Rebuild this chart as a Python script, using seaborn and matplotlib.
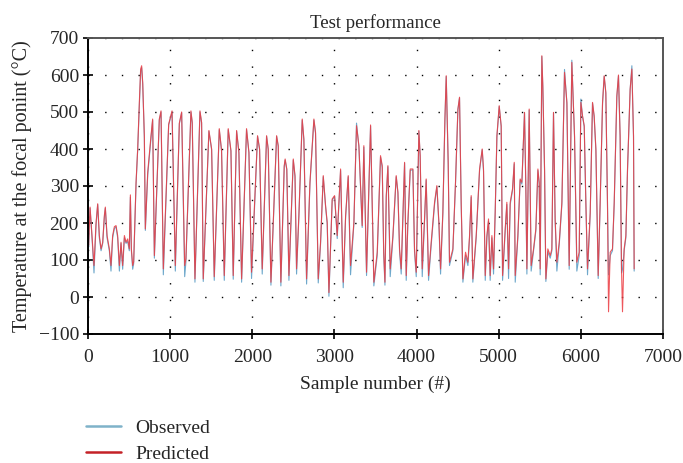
import matplotlib
matplotlib.use("Agg")
import matplotlib.pyplot as plt
from matplotlib.lines import Line2D
import numpy as np
import pandas as pd
import seaborn as sns

# Turning points of the test series (sample index, temperature in °C)
sample_number = [
    0, 8, 25, 49, 73, 98, 118, 138, 159, 179, 199, 211, 232, 260, 280, 300,
    321, 341, 361, 382, 402, 422, 443, 463, 483, 503, 516, 528, 544, 556, 585,
    605, 625, 641, 653, 666, 686, 698, 727, 767, 787, 808, 868, 889, 917, 982,
    1023, 1063, 1112, 1140, 1177,
    1192, 1253, 1269, 1302, 1363, 1383, 1403, 1472, 1505, 1537, 1598, 1626,
    1659, 1707, 1740, 1768, 1809, 1837, 1870, 1930, 1959, 1991, 2064, 2089,
    2121, 2174, 2194, 2227, 2296, 2316, 2348, 2389,
    2400, 2420, 2446, 2499, 2520, 2539, 2567, 2608, 2628, 2661, 2702, 2750,
    2770, 2803, 2831, 2864, 2892, 2912, 2933, 2973, 3002, 3034, 3075, 3107,
    3136, 3168, 3196, 3237, 3269, 3298, 3338, 3358, 3391, 3440, 3480, 3521,
    3561, 3582,
    3600, 3615, 3631, 3651, 3679, 3712, 3752, 3773, 3793, 3813, 3854, 3874,
    3894, 3923, 3955, 3975, 3996, 4028, 4044, 4069, 4097, 4117, 4146, 4178,
    4219, 4247, 4272, 4292, 4320, 4345, 4361, 4385, 4401, 4442, 4474, 4503,
    4523, 4543, 4564, 4596, 4625, 4645, 4665, 4685, 4726, 4767, 4799,
    4815, 4836, 4856, 4876, 4896, 4917, 4937, 4957, 4978, 5006, 5030, 5047,
    5079, 5099, 5120, 5140, 5168, 5189, 5201, 5233, 5261, 5282, 5314, 5330,
    5343, 5371, 5395, 5424, 5452, 5477, 5493, 5505, 5525, 5537, 5558, 5574,
    5598, 5627, 5647, 5667, 5687, 5708, 5737, 5769, 5801, 5830, 5858, 5890,
    5923, 5951, 5980, 6000,
    6020, 6041, 6061, 6081, 6114, 6142, 6162, 6183, 6211, 6235, 6264, 6284,
    6304, 6324, 6337, 6357, 6385, 6406, 6438, 6458, 6478, 6495, 6507, 6527,
    6548, 6568, 6600, 6621, 6641, 6649,
]

observed = [
    150, 135, 240, 160, 65, 195, 250, 160, 125, 145, 215, 240, 160, 125, 70, 160,
    185, 190, 160, 70, 145, 75, 160, 145, 150, 125, 270, 125, 75, 90, 305,
    400, 520, 610, 620, 575, 430, 180, 330, 430, 478, 105, 478, 500, 60, 465,
    500, 70, 468, 498, 55,
    95, 500, 470, 40, 500, 470, 42, 448, 398, 45, 452, 394,
    45, 452, 394, 48, 448, 390, 40, 452, 390, 50, 434, 398,
    62, 434, 398, 32, 434, 406, 30, 352,
    370, 344, 45, 370, 325, 62, 215, 478, 424, 35, 305, 478,
    442, 38, 142, 325, 245, 198, 2, 262, 272, 158, 342, 25,
    215, 325, 60, 198, 470, 405, 188, 405, 58, 462, 30, 112,
    378, 350,
    112, 32, 270, 352, 55, 160, 325, 280, 122, 62, 362, 45,
    198, 342, 344, 122, 55, 448, 378, 55, 205, 316, 45, 140,
    250, 298, 195, 62, 225, 478, 596, 360, 85, 125, 306, 505,
    538, 250, 40, 112, 85, 160, 270, 40, 160, 342, 398,
    340, 45, 160, 205, 45, 160, 62, 225, 432, 515, 460, 45,
    178, 250, 50, 250, 288, 360, 40, 160, 315, 305, 498, 296,
    62, 505, 70, 125, 178, 342, 305, 60, 650, 566, 342, 42,
    122, 105, 125, 498, 205, 70, 142, 250, 615, 522, 75, 640,
    432, 70, 112, 535,
    488, 460, 250, 60, 225, 524, 486, 396, 50, 250, 522, 596,
    550, 250, 60, 112, 125, 250, 540, 598, 432, 65, 75, 125,
    160, 342, 560, 625, 432, 70,
]

predicted = [
    150, 140, 243, 166, 85, 200, 252, 166, 130, 148, 220, 243, 166, 130, 85, 166,
    190, 193, 166, 85, 148, 85, 166, 148, 157, 130, 276, 130, 85, 95, 310,
    400, 526, 616, 625, 580, 436, 184, 337, 436, 481, 112, 481, 503, 76, 467,
    503, 85, 470, 500, 85,
    103, 503, 472, 49, 503, 472, 49, 450, 400, 55, 455, 396,
    58, 455, 396, 58, 450, 391, 49, 455, 391, 67, 436, 400,
    76, 436, 400, 40, 436, 409, 40, 355,
    373, 346, 58, 373, 328, 76, 220, 481, 427, 49, 310, 481,
    445, 49, 148, 328, 247, 202, 12, 265, 274, 166, 346, 40,
    220, 328, 85, 202, 463, 409, 193, 409, 67, 465, 40, 121,
    382, 355,
    121, 40, 274, 355, 76, 166, 328, 283, 130, 76, 364, 58,
    202, 346, 346, 130, 67, 450, 382, 76, 211, 319, 58, 148,
    256, 301, 202, 76, 229, 481, 598, 364, 94, 130, 310, 508,
    540, 256, 49, 121, 94, 166, 274, 49, 166, 346, 400,
    346, 58, 166, 211, 58, 166, 76, 229, 436, 517, 463, 58,
    184, 256, 76, 256, 292, 364, 58, 166, 319, 310, 499, 301,
    76, 508, 85, 130, 184, 346, 310, 76, 652, 571, 346, 49,
    130, 112, 130, 499, 211, 94, 148, 256, 607, 526, 85, 634,
    436, 94, 121, 526,
    490, 463, 256, 76, 229, 526, 490, 400, 58, 256, 526, 598,
    553, 256, -40, 121, 130, 256, 544, 600, 436, 76, -40, 130,
    166, 346, 562, 616, 436, 76,
]

x_ticks = [0, 1000, 2000, 3000, 4000, 5000, 6000, 7000]
y_ticks = [-100, 0, 100, 200, 300, 400, 500, 600, 700]

obs_color = "#5f9fc6"
pred_color = "#ec3a40"

df = pd.DataFrame({
    "Sample number (#)": sample_number * 2,
    "Temperature": observed + predicted,
    "Series": ["Observed"] * len(observed) + ["Predicted"] * len(predicted),
})

sns.set_theme(style="white")
plt.rcParams["font.family"] = ["Liberation Serif", "DejaVu Serif"]

fig = plt.figure(figsize=(6.83, 4.63), dpi=100)
ax = fig.add_axes([88 / 683, 1 - 334 / 463, (663 - 88) / 683, (334 - 38) / 463])

sns.lineplot(data=df[df["Series"] == "Observed"], x="Sample number (#)",
             y="Temperature", color=obs_color, linewidth=0.8, alpha=0.9,
             estimator=None, ax=ax, legend=False)
sns.lineplot(data=df[df["Series"] == "Predicted"], x="Sample number (#)",
             y="Temperature", color=pred_color, linewidth=0.8, alpha=0.85,
             estimator=None, ax=ax, legend=False)

ax.set_xlim(0, 7000)
ax.set_ylim(-100, 700)
ax.set_xticks(x_ticks)
ax.set_yticks(y_ticks)
ax.set_xticklabels([str(t) for t in x_ticks])
ax.set_yticklabels([str(t).replace("-", "\u2212") for t in y_ticks])

ax.grid(True, color="black", linestyle=(0, (1, 11)), linewidth=1.0)
ax.set_axisbelow(True)

for side in ["left", "bottom"]:
    ax.spines[side].set_color("black")
    ax.spines[side].set_linewidth(1.4)
for side in ["top", "right"]:
    ax.spines[side].set_color("#555555")
    ax.spines[side].set_linewidth(1.4)
    ax.spines[side].set_visible(True)

ax.tick_params(axis="both", direction="inout", length=7, width=1.2,
               color="black", labelsize=14, bottom=True, left=True)
ax.tick_params(axis="x", pad=7)
ax.tick_params(axis="y", pad=3)

ax.set_xlabel("Sample number (#)", fontsize=14, labelpad=7)
ax.set_ylabel("Temperature at the focal ponint (\u00b0C)", fontsize=14.5, labelpad=5)
ax.set_title("Test performance", fontsize=13.5, pad=7)

handles = [
    Line2D([0], [0], color="#7fb2c9", linewidth=1.8, label="Observed"),
    Line2D([0], [0], color="#c42127", linewidth=1.8, label="Predicted"),
]
fig.legend(handles=handles, loc="upper left",
           bbox_to_anchor=(86 / 683, 1 - 419 / 463), frameon=False,
           fontsize=14, handlelength=1.8, handletextpad=0.75,
           labelspacing=0.45, borderpad=0, borderaxespad=0)

fig.savefig("out.png", dpi=100)
